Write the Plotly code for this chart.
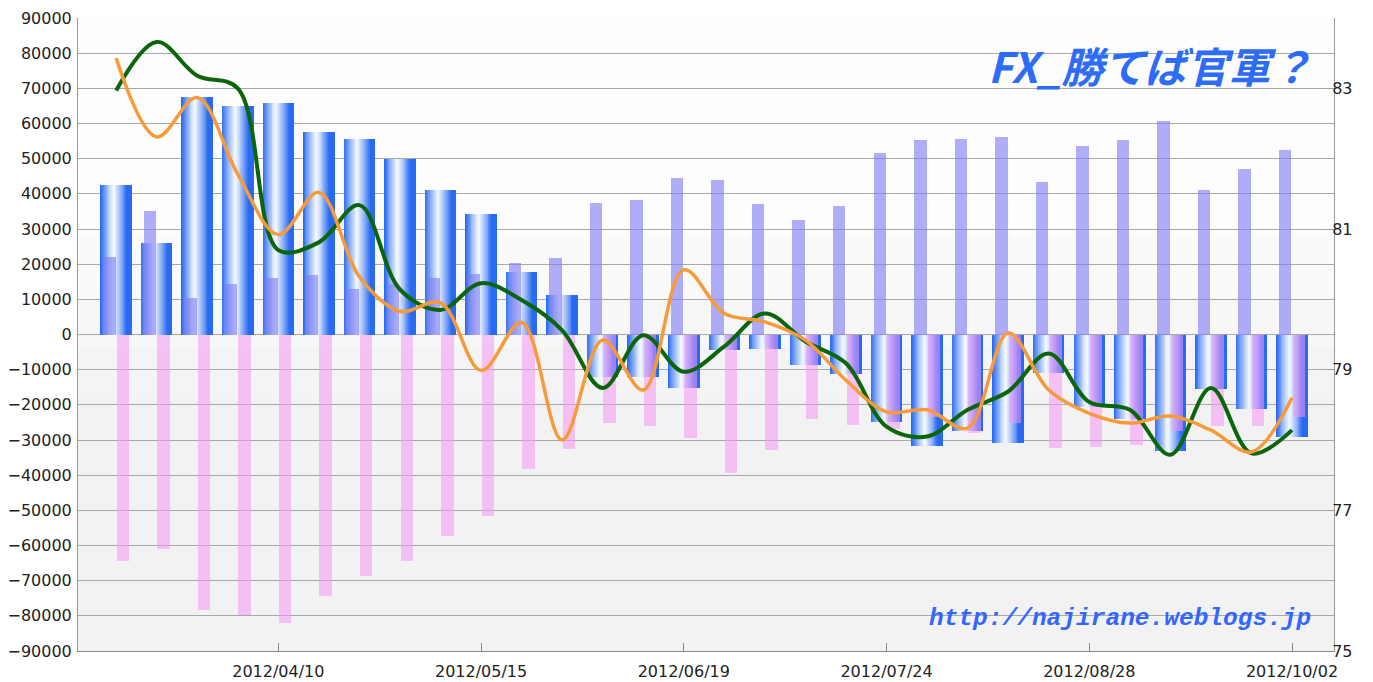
import plotly.graph_objects as go

# ---- data ----
dates = [
    "2012-03-13", "2012-03-20", "2012-03-27", "2012-04-03", "2012-04-10",
    "2012-04-17", "2012-04-24", "2012-05-01", "2012-05-08", "2012-05-15",
    "2012-05-22", "2012-05-29", "2012-06-05", "2012-06-12", "2012-06-19",
    "2012-06-26", "2012-07-03", "2012-07-10", "2012-07-17", "2012-07-24",
    "2012-07-31", "2012-08-07", "2012-08-14", "2012-08-21", "2012-08-28",
    "2012-09-04", "2012-09-11", "2012-09-18", "2012-09-25", "2012-10-02",
]
net_position = [42500, 26000, 67500, 65000, 65700, 57700, 55600, 50000, 41200, 34400,
                17800, 11100, -12000, -12000, -15200, -4300, -4100, -8700, -11200, -24900,
                -31800, -27500, -30800, -10900, -20500, -24000, -33200, -15400, -21100, -29100]
long_position = [22000, 35000, 10500, 14500, 16100, 17000, 12800, 14300, 16100, 17300,
                 20400, 21700, 37400, 38200, 44500, 43800, 37000, 32700, 36500, 51700,
                 55200, 55600, 56100, 43300, 53500, 55200, 60700, 41200, 47100, 52600]
short_position = [-64500, -61000, -78300, -79700, -82000, -74500, -68600, -64300, -57300, -51500,
                  -38300, -32500, -25100, -25900, -29400, -39300, -32900, -24000, -25800, -26800,
                  -23400, -28100, -25300, -32400, -32000, -31300, -27500, -26000, -26000, -23500]
rate_green = [82.97, 83.66, 83.18, 83.00, 80.70, 80.81, 81.34, 80.14, 79.85, 80.23,
              79.99, 79.56, 78.74, 79.49, 78.97, 79.33, 79.80, 79.40, 79.09, 78.19,
              78.05, 78.43, 78.69, 79.23, 78.54, 78.43, 77.79, 78.74, 77.81, 78.14]
rate_orange = [83.43, 82.31, 82.87, 81.78, 80.92, 81.52, 80.32, 79.83, 79.95, 78.99,
               79.67, 78.00, 79.42, 78.71, 80.42, 79.80, 79.68, 79.42, 78.85, 78.40,
               78.43, 78.17, 79.52, 78.71, 78.38, 78.24, 78.34, 78.14, 77.83, 78.60]
tick_dates = ["2012-04-10", "2012-05-15", "2012-06-19", "2012-07-24", "2012-08-28", "2012-10-02"]
tick_labels = ["2012/04/10", "2012/05/15", "2012/06/19", "2012/07/24", "2012/08/28", "2012/10/02"]
left_ticks = list(range(-90000, 90001, 10000))
right_ticks = [75, 77, 79, 81, 83]
title_text = "FX_勝てば官軍？"
url_text = "http://najirane.weblogs.jp"

# ---- styling ----
DAY = 86400000.0
W = 5.44 * DAY          # wide bar width
NW = 2.15 * DAY         # narrow bar width

fig = go.Figure()

# blue net-position bars with a horizontal gradient (layered, nested around a highlight)
blue = (40, 106, 242)
light = (240, 246, 255)
PEAK = 0.42
n_layers = 14
for k in range(n_layers + 1):
    if k == 0:
        f, off, col = 1.0, -0.5 * W, blue
    else:
        h = PEAK * (1 - (k - 0.5) / n_layers)          # half-width as fraction of W
        t = 1 - (h / PEAK) ** 1.15
        t = min(1.0, 0.04 + t)
        f = 2 * h
        off = (PEAK - 0.5) * W - h * W
        col = tuple(int(blue[i] + (light[i] - blue[i]) * t) for i in range(3))
    fig.add_trace(go.Bar(
        x=dates, y=net_position, width=f * W, offset=off,
        marker=dict(color="rgb(%d,%d,%d)" % col, line=dict(width=0)),
        hoverinfo="skip", showlegend=False,
    ))

# long (purple) and short (pink) narrow bars
fig.add_trace(go.Bar(
    x=dates, y=long_position, width=NW, offset=-2.25 * DAY,
    marker=dict(color="rgba(128,124,246,0.62)", line=dict(width=0)),
    showlegend=False, name="long",
))
fig.add_trace(go.Bar(
    x=dates, y=short_position, width=NW, offset=0.1 * DAY,
    marker=dict(color="rgba(246,150,246,0.55)", line=dict(width=0)),
    showlegend=False, name="short",
))

# rate lines on right axis
fig.add_trace(go.Scatter(
    x=dates, y=rate_green, yaxis="y2", mode="lines",
    line=dict(color="#0b650b", width=4, shape="spline", smoothing=1.0),
    showlegend=False, name="green",
))
fig.add_trace(go.Scatter(
    x=dates, y=rate_orange, yaxis="y2", mode="lines",
    line=dict(color="#f79a3a", width=3.5, shape="spline", smoothing=1.0),
    showlegend=False, name="orange",
))

# subtle vertical background gradient inside the plot area
bands = [(0.0, 0.40, "#f2f2f2"), (0.40, 0.48, "#f4f4f4"), (0.48, 0.56, "#f7f7f7"),
         (0.56, 0.66, "#fafafa"), (0.66, 1.0, "#fdfdfd")]
shapes = [dict(type="rect", xref="x domain", yref="y domain", x0=0, x1=1, y0=a, y1=b,
               fillcolor=c, line=dict(width=0), layer="below") for a, b, c in bands]

tick_font = dict(family="DejaVu Sans", size=16, color="#222222")

fig.update_layout(
    width=1373, height=682,
    margin=dict(l=78, r=39, t=18, b=31, autoexpand=False),
    paper_bgcolor="white", plot_bgcolor="white",
    barmode="overlay", bargap=0,
    showlegend=False, hovermode=False,
    shapes=shapes,
    xaxis=dict(
        type="date", range=["2012-03-06 10:00", "2012-10-09 06:00"],
        tickvals=tick_dates, ticktext=tick_labels, tickfont=tick_font,
        showgrid=False, showline=True, linecolor="#8a8a8a", linewidth=1,
        ticks="inside", ticklen=8, tickcolor="#8a8a8a", zeroline=False,
        automargin=False, ticklabelstandoff=6,
    ),
    yaxis=dict(
        range=[-90000, 90000], tickvals=left_ticks, tickfont=tick_font,
        tickformat="d", showgrid=True, gridcolor="#a8a8a8", gridwidth=1,
        showline=True, linecolor="#9a9a9a", zeroline=False, ticks="",
        automargin=False, ticklabelstandoff=2,
    ),
    yaxis2=dict(
        range=[75, 84], tickvals=right_ticks, overlaying="y", side="right",
        tickfont=tick_font, showgrid=False, showline=True, linecolor="#9a9a9a",
        ticks="inside", ticklen=7, tickcolor="#9a9a9a", zeroline=False,
        automargin=False, ticklabelstandoff=-6,
    ),
    annotations=[
        dict(text="<i><b>" + title_text + "</b></i>", xref="paper", yref="paper",
             x=0.985, y=0.978, xanchor="right", yanchor="top", showarrow=False,
             font=dict(family="Noto Sans CJK JP", size=42, color="#2d6cf6", weight=900)),
        dict(text="<i><b>" + url_text + "</b></i>", xref="paper", yref="paper",
             x=0.983, y=0.027, xanchor="right", yanchor="bottom", showarrow=False,
             font=dict(family="Liberation Mono", size=24.5, color="#3366ff")),
    ],
)

fig.write_html("out.html", config={"displayModeBar": False},
               post_script="document.body.style.margin='0';document.body.style.overflow='hidden';")
